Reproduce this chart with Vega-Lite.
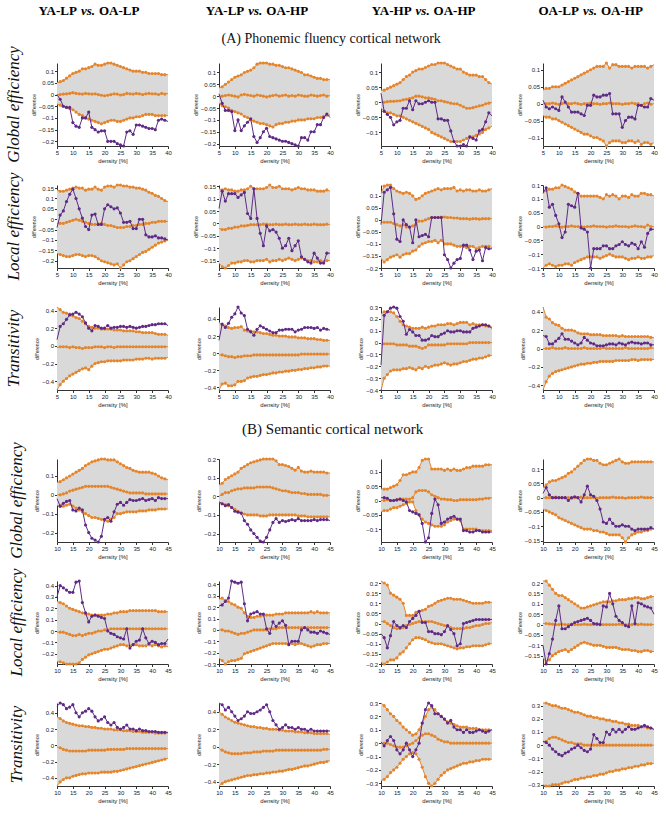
{
"$schema":"https://vega.github.io/schema/vega-lite/v6.json",
"background":"white",
"padding":{"left":4,"top":4,"right":4,"bottom":2},
"spacing":14,
"datasets":{
"hdr":[{"c":1,"a":"YA-LP","b":"OA-LP"},{"c":2,"a":"YA-LP","b":"OA-HP"},{"c":3,"a":"YA-HP","b":"OA-HP"},{"c":4,"a":"OA-LP","b":"OA-HP"}],
"panels":[
{"p":1,"r":"Global efficiency","c":1},{"p":2,"r":"Global efficiency","c":2},{"p":3,"r":"Global efficiency","c":3},{"p":4,"r":"Global efficiency","c":4},
{"p":5,"r":"Local efficiency","c":1},{"p":6,"r":"Local efficiency","c":2},{"p":7,"r":"Local efficiency","c":3},{"p":8,"r":"Local efficiency","c":4},
{"p":9,"r":"Transitivity","c":1},{"p":10,"r":"Transitivity","c":2},{"p":11,"r":"Transitivity","c":3},{"p":12,"r":"Transitivity","c":4},
{"p":13,"r":"Global efficiency","c":1},{"p":14,"r":"Global efficiency","c":2},{"p":15,"r":"Global efficiency","c":3},{"p":16,"r":"Global efficiency","c":4},
{"p":17,"r":"Local efficiency","c":1},{"p":18,"r":"Local efficiency","c":2},{"p":19,"r":"Local efficiency","c":3},{"p":20,"r":"Local efficiency","c":4},
{"p":21,"r":"Transitivity","c":1},{"p":22,"r":"Transitivity","c":2},{"p":23,"r":"Transitivity","c":3},{"p":24,"r":"Transitivity","c":4}],
"d":[
{"p":1,"x":5,"u":0.05,"m":0,"l":-0.04,"o":0},
{"p":1,"x":6,"u":0.055,"m":0,"l":-0.045,"o":-0.02},
{"p":1,"x":7,"u":0.06,"m":0.002,"l":-0.05,"o":-0.05},
{"p":1,"x":8,"u":0.07,"m":0.003,"l":-0.055,"o":-0.055},
{"p":1,"x":9,"u":0.08,"m":0.005,"l":-0.06,"o":-0.055},
{"p":1,"x":10,"u":0.09,"m":0.008,"l":-0.065,"o":-0.12},
{"p":1,"x":11,"u":0.095,"m":0.005,"l":-0.075,"o":-0.135},
{"p":1,"x":12,"u":0.1,"m":0.003,"l":-0.085,"o":-0.14},
{"p":1,"x":13,"u":0.11,"m":0.002,"l":-0.09,"o":-0.1},
{"p":1,"x":14,"u":0.11,"m":0.005,"l":-0.1,"o":-0.1},
{"p":1,"x":15,"u":0.115,"m":0.003,"l":-0.105,"o":-0.075},
{"p":1,"x":16,"u":0.12,"m":0.002,"l":-0.11,"o":-0.14},
{"p":1,"x":17,"u":0.13,"m":0.003,"l":-0.115,"o":-0.15},
{"p":1,"x":18,"u":0.125,"m":0,"l":-0.12,"o":-0.16},
{"p":1,"x":19,"u":0.125,"m":-0.003,"l":-0.125,"o":-0.155},
{"p":1,"x":20,"u":0.13,"m":-0.005,"l":-0.12,"o":-0.155},
{"p":1,"x":21,"u":0.135,"m":-0.003,"l":-0.115,"o":-0.2},
{"p":1,"x":22,"u":0.135,"m":0,"l":-0.11,"o":-0.2},
{"p":1,"x":23,"u":0.13,"m":0.003,"l":-0.11,"o":-0.2},
{"p":1,"x":24,"u":0.125,"m":0.002,"l":-0.115,"o":-0.21},
{"p":1,"x":25,"u":0.12,"m":-0.002,"l":-0.115,"o":-0.215},
{"p":1,"x":26,"u":0.115,"m":0,"l":-0.11,"o":-0.22},
{"p":1,"x":27,"u":0.11,"m":0.005,"l":-0.105,"o":-0.16},
{"p":1,"x":28,"u":0.105,"m":0.003,"l":-0.1,"o":-0.155},
{"p":1,"x":29,"u":0.1,"m":0.002,"l":-0.1,"o":-0.17},
{"p":1,"x":30,"u":0.1,"m":0.005,"l":-0.095,"o":-0.13},
{"p":1,"x":31,"u":0.1,"m":0.003,"l":-0.095,"o":-0.13},
{"p":1,"x":32,"u":0.095,"m":0,"l":-0.09,"o":-0.135},
{"p":1,"x":33,"u":0.095,"m":0.003,"l":-0.085,"o":-0.14},
{"p":1,"x":34,"u":0.09,"m":0.005,"l":-0.085,"o":-0.145},
{"p":1,"x":35,"u":0.09,"m":0.003,"l":-0.085,"o":-0.145},
{"p":1,"x":36,"u":0.09,"m":0.003,"l":-0.09,"o":-0.15},
{"p":1,"x":37,"u":0.09,"m":0,"l":-0.09,"o":-0.11},
{"p":1,"x":38,"u":0.085,"m":0.005,"l":-0.09,"o":-0.105},
{"p":1,"x":39,"u":0.085,"m":0.002,"l":-0.09,"o":-0.11},
{"p":1,"x":40,"u":0.085,"m":0.005,"l":-0.09,"o":-0.115},
{"p":2,"x":5,"u":0.035,"m":0,"l":-0.03,"o":0.01},
{"p":2,"x":6,"u":0.04,"m":0,"l":-0.04,"o":-0.03},
{"p":2,"x":7,"u":0.05,"m":0.003,"l":-0.045,"o":-0.06},
{"p":2,"x":8,"u":0.06,"m":0.005,"l":-0.05,"o":-0.06},
{"p":2,"x":9,"u":0.07,"m":0.003,"l":-0.06,"o":-0.065},
{"p":2,"x":10,"u":0.08,"m":0,"l":-0.065,"o":-0.145},
{"p":2,"x":11,"u":0.085,"m":-0.003,"l":-0.07,"o":-0.1},
{"p":2,"x":12,"u":0.09,"m":0.005,"l":-0.075,"o":-0.145},
{"p":2,"x":13,"u":0.1,"m":0.008,"l":-0.085,"o":-0.125},
{"p":2,"x":14,"u":0.105,"m":0.005,"l":-0.09,"o":-0.11},
{"p":2,"x":15,"u":0.11,"m":0.003,"l":-0.1,"o":-0.095},
{"p":2,"x":16,"u":0.12,"m":0,"l":-0.105,"o":-0.17},
{"p":2,"x":17,"u":0.135,"m":0.005,"l":-0.11,"o":-0.195},
{"p":2,"x":18,"u":0.14,"m":0.003,"l":-0.115,"o":-0.175},
{"p":2,"x":19,"u":0.14,"m":0,"l":-0.115,"o":-0.15},
{"p":2,"x":20,"u":0.14,"m":-0.003,"l":-0.12,"o":-0.135},
{"p":2,"x":21,"u":0.135,"m":0,"l":-0.125,"o":-0.17},
{"p":2,"x":22,"u":0.135,"m":0.003,"l":-0.13,"o":-0.175},
{"p":2,"x":23,"u":0.13,"m":0.005,"l":-0.12,"o":-0.18},
{"p":2,"x":24,"u":0.13,"m":0,"l":-0.115,"o":-0.185},
{"p":2,"x":25,"u":0.125,"m":0.003,"l":-0.115,"o":-0.19},
{"p":2,"x":26,"u":0.12,"m":0.005,"l":-0.11,"o":-0.19},
{"p":2,"x":27,"u":0.12,"m":0,"l":-0.11,"o":-0.195},
{"p":2,"x":28,"u":0.115,"m":0.003,"l":-0.105,"o":-0.2},
{"p":2,"x":29,"u":0.11,"m":0,"l":-0.105,"o":-0.205},
{"p":2,"x":30,"u":0.105,"m":0.005,"l":-0.1,"o":-0.21},
{"p":2,"x":31,"u":0.1,"m":0.003,"l":-0.1,"o":-0.175},
{"p":2,"x":32,"u":0.09,"m":0,"l":-0.1,"o":-0.175},
{"p":2,"x":33,"u":0.09,"m":0,"l":-0.095,"o":-0.185},
{"p":2,"x":34,"u":0.085,"m":0.005,"l":-0.095,"o":-0.15},
{"p":2,"x":35,"u":0.08,"m":0.003,"l":-0.095,"o":-0.15},
{"p":2,"x":36,"u":0.075,"m":0,"l":-0.09,"o":-0.12},
{"p":2,"x":37,"u":0.075,"m":0.003,"l":-0.09,"o":-0.12},
{"p":2,"x":38,"u":0.07,"m":0.005,"l":-0.085,"o":-0.09},
{"p":2,"x":39,"u":0.07,"m":0,"l":-0.08,"o":-0.075},
{"p":2,"x":40,"u":0.07,"m":0.003,"l":-0.08,"o":-0.09},
{"p":3,"x":5,"u":0.04,"m":0,"l":-0.02,"o":0.03},
{"p":3,"x":6,"u":0.04,"m":0,"l":-0.03,"o":-0.03},
{"p":3,"x":7,"u":0.045,"m":0.002,"l":-0.035,"o":-0.04},
{"p":3,"x":8,"u":0.05,"m":0.003,"l":-0.035,"o":-0.05},
{"p":3,"x":9,"u":0.055,"m":0.003,"l":-0.04,"o":-0.075},
{"p":3,"x":10,"u":0.06,"m":0.004,"l":-0.045,"o":-0.065},
{"p":3,"x":11,"u":0.065,"m":0.005,"l":-0.045,"o":-0.06},
{"p":3,"x":12,"u":0.075,"m":0.008,"l":-0.05,"o":-0.02},
{"p":3,"x":13,"u":0.085,"m":0.01,"l":-0.055,"o":-0.02},
{"p":3,"x":14,"u":0.09,"m":0.012,"l":-0.06,"o":0.005},
{"p":3,"x":15,"u":0.1,"m":0.015,"l":-0.065,"o":-0.025},
{"p":3,"x":16,"u":0.105,"m":0.02,"l":-0.07,"o":0.005},
{"p":3,"x":17,"u":0.11,"m":0.02,"l":-0.075,"o":-0.005},
{"p":3,"x":18,"u":0.11,"m":0.018,"l":-0.08,"o":-0.005},
{"p":3,"x":19,"u":0.115,"m":0.015,"l":-0.085,"o":0},
{"p":3,"x":20,"u":0.12,"m":0.015,"l":-0.09,"o":0.005},
{"p":3,"x":21,"u":0.125,"m":0.012,"l":-0.1,"o":0},
{"p":3,"x":22,"u":0.125,"m":0.01,"l":-0.105,"o":0},
{"p":3,"x":23,"u":0.13,"m":0.005,"l":-0.11,"o":-0.055},
{"p":3,"x":24,"u":0.13,"m":0.005,"l":-0.115,"o":-0.055},
{"p":3,"x":25,"u":0.13,"m":0.002,"l":-0.12,"o":-0.06},
{"p":3,"x":26,"u":0.125,"m":0,"l":-0.125,"o":-0.06},
{"p":3,"x":27,"u":0.12,"m":-0.003,"l":-0.13,"o":-0.095},
{"p":3,"x":28,"u":0.115,"m":-0.005,"l":-0.13,"o":-0.13},
{"p":3,"x":29,"u":0.11,"m":-0.005,"l":-0.13,"o":-0.145},
{"p":3,"x":30,"u":0.11,"m":-0.01,"l":-0.13,"o":-0.145},
{"p":3,"x":31,"u":0.1,"m":-0.015,"l":-0.125,"o":-0.14},
{"p":3,"x":32,"u":0.095,"m":-0.02,"l":-0.12,"o":-0.145},
{"p":3,"x":33,"u":0.09,"m":-0.02,"l":-0.115,"o":-0.115},
{"p":3,"x":34,"u":0.09,"m":-0.018,"l":-0.115,"o":-0.12},
{"p":3,"x":35,"u":0.09,"m":-0.015,"l":-0.11,"o":-0.125},
{"p":3,"x":36,"u":0.085,"m":-0.012,"l":-0.105,"o":-0.095},
{"p":3,"x":37,"u":0.085,"m":-0.01,"l":-0.1,"o":-0.09},
{"p":3,"x":38,"u":0.075,"m":-0.005,"l":-0.09,"o":-0.065},
{"p":3,"x":39,"u":0.065,"m":-0.003,"l":-0.085,"o":-0.035},
{"p":3,"x":40,"u":0.06,"m":0,"l":-0.08,"o":-0.045},
{"p":4,"x":5,"u":0.04,"m":0,"l":-0.035,"o":0.01},
{"p":4,"x":6,"u":0.045,"m":0,"l":-0.04,"o":-0.01},
{"p":4,"x":7,"u":0.045,"m":0,"l":-0.04,"o":-0.015},
{"p":4,"x":8,"u":0.05,"m":0.002,"l":-0.045,"o":-0.01},
{"p":4,"x":9,"u":0.05,"m":0,"l":-0.045,"o":-0.015},
{"p":4,"x":10,"u":0.05,"m":-0.002,"l":-0.05,"o":-0.02},
{"p":4,"x":11,"u":0.055,"m":0,"l":-0.055,"o":0.02},
{"p":4,"x":12,"u":0.06,"m":0.002,"l":-0.06,"o":0.005},
{"p":4,"x":13,"u":0.065,"m":0,"l":-0.065,"o":-0.01},
{"p":4,"x":14,"u":0.07,"m":0,"l":-0.07,"o":-0.025},
{"p":4,"x":15,"u":0.075,"m":0.002,"l":-0.075,"o":-0.025},
{"p":4,"x":16,"u":0.08,"m":0,"l":-0.08,"o":-0.025},
{"p":4,"x":17,"u":0.085,"m":-0.002,"l":-0.085,"o":-0.03},
{"p":4,"x":18,"u":0.09,"m":0,"l":-0.09,"o":-0.035},
{"p":4,"x":19,"u":0.095,"m":0,"l":-0.09,"o":-0.005},
{"p":4,"x":20,"u":0.1,"m":0.002,"l":-0.095,"o":-0.005},
{"p":4,"x":21,"u":0.105,"m":0,"l":-0.1,"o":0.025},
{"p":4,"x":22,"u":0.11,"m":0,"l":-0.1,"o":0.02},
{"p":4,"x":23,"u":0.11,"m":-0.002,"l":-0.105,"o":0.02},
{"p":4,"x":24,"u":0.11,"m":0,"l":-0.11,"o":0.025},
{"p":4,"x":25,"u":0.12,"m":0,"l":-0.125,"o":0.025},
{"p":4,"x":26,"u":0.105,"m":0.002,"l":-0.115,"o":0.03},
{"p":4,"x":27,"u":0.115,"m":0,"l":-0.11,"o":-0.03},
{"p":4,"x":28,"u":0.115,"m":0,"l":-0.11,"o":-0.03},
{"p":4,"x":29,"u":0.11,"m":0,"l":-0.11,"o":-0.03},
{"p":4,"x":30,"u":0.11,"m":-0.002,"l":-0.115,"o":-0.07},
{"p":4,"x":31,"u":0.11,"m":0,"l":-0.115,"o":-0.05},
{"p":4,"x":32,"u":0.11,"m":0,"l":-0.11,"o":-0.04},
{"p":4,"x":33,"u":0.105,"m":0.002,"l":-0.11,"o":-0.04},
{"p":4,"x":34,"u":0.11,"m":0,"l":-0.115,"o":-0.045},
{"p":4,"x":35,"u":0.11,"m":0,"l":-0.11,"o":-0.005},
{"p":4,"x":36,"u":0.11,"m":-0.005,"l":-0.12,"o":-0.005},
{"p":4,"x":37,"u":0.11,"m":0,"l":-0.115,"o":-0.01},
{"p":4,"x":38,"u":0.105,"m":0.002,"l":-0.115,"o":-0.01},
{"p":4,"x":39,"u":0.11,"m":-0.002,"l":-0.12,"o":0.015},
{"p":4,"x":40,"u":0.115,"m":0,"l":-0.115,"o":0.01},
{"p":5,"x":5,"u":0.14,"m":-0.02,"l":-0.165,"o":-0.04},
{"p":5,"x":6,"u":0.135,"m":-0.02,"l":-0.17,"o":0.02},
{"p":5,"x":7,"u":0.135,"m":-0.02,"l":-0.175,"o":0.04},
{"p":5,"x":8,"u":0.14,"m":-0.015,"l":-0.18,"o":0.085},
{"p":5,"x":9,"u":0.145,"m":-0.01,"l":-0.18,"o":0.12},
{"p":5,"x":10,"u":0.15,"m":-0.005,"l":-0.175,"o":0.145},
{"p":5,"x":11,"u":0.155,"m":0,"l":-0.17,"o":0.1},
{"p":5,"x":12,"u":0.15,"m":-0.005,"l":-0.17,"o":0.05},
{"p":5,"x":13,"u":0.15,"m":-0.01,"l":-0.175,"o":0.005},
{"p":5,"x":14,"u":0.14,"m":-0.015,"l":-0.18,"o":-0.035},
{"p":5,"x":15,"u":0.145,"m":-0.02,"l":-0.175,"o":-0.05},
{"p":5,"x":16,"u":0.145,"m":-0.025,"l":-0.175,"o":0.02},
{"p":5,"x":17,"u":0.155,"m":-0.025,"l":-0.18,"o":0.025},
{"p":5,"x":18,"u":0.145,"m":-0.025,"l":-0.19,"o":-0.025},
{"p":5,"x":19,"u":0.14,"m":-0.02,"l":-0.2,"o":-0.025},
{"p":5,"x":20,"u":0.155,"m":-0.025,"l":-0.205,"o":0.05},
{"p":5,"x":21,"u":0.16,"m":-0.03,"l":-0.21,"o":0.07},
{"p":5,"x":22,"u":0.16,"m":-0.03,"l":-0.215,"o":0.06},
{"p":5,"x":23,"u":0.155,"m":-0.035,"l":-0.22,"o":0.05},
{"p":5,"x":24,"u":0.165,"m":-0.04,"l":-0.215,"o":0.055},
{"p":5,"x":25,"u":0.165,"m":-0.04,"l":-0.235,"o":0.03},
{"p":5,"x":26,"u":0.16,"m":-0.04,"l":-0.22,"o":-0.015},
{"p":5,"x":27,"u":0.16,"m":-0.035,"l":-0.205,"o":-0.015},
{"p":5,"x":28,"u":0.155,"m":-0.035,"l":-0.2,"o":-0.01},
{"p":5,"x":29,"u":0.155,"m":-0.03,"l":-0.19,"o":-0.045},
{"p":5,"x":30,"u":0.15,"m":-0.03,"l":-0.18,"o":-0.045},
{"p":5,"x":31,"u":0.15,"m":-0.025,"l":-0.17,"o":0},
{"p":5,"x":32,"u":0.145,"m":-0.025,"l":-0.16,"o":0},
{"p":5,"x":33,"u":0.14,"m":-0.02,"l":-0.155,"o":-0.075},
{"p":5,"x":34,"u":0.13,"m":-0.02,"l":-0.145,"o":-0.085},
{"p":5,"x":35,"u":0.125,"m":-0.015,"l":-0.135,"o":-0.085},
{"p":5,"x":36,"u":0.115,"m":-0.015,"l":-0.125,"o":-0.08},
{"p":5,"x":37,"u":0.11,"m":-0.01,"l":-0.115,"o":-0.09},
{"p":5,"x":38,"u":0.1,"m":-0.01,"l":-0.11,"o":-0.09},
{"p":5,"x":39,"u":0.09,"m":-0.01,"l":-0.105,"o":-0.095},
{"p":5,"x":40,"u":0.085,"m":-0.01,"l":-0.1,"o":-0.1},
{"p":6,"x":5,"u":0.14,"m":-0.02,"l":-0.16,"o":0.06},
{"p":6,"x":6,"u":0.135,"m":-0.025,"l":-0.175,"o":0.13},
{"p":6,"x":7,"u":0.14,"m":-0.025,"l":-0.18,"o":0.09},
{"p":6,"x":8,"u":0.135,"m":-0.02,"l":-0.17,"o":0.12},
{"p":6,"x":9,"u":0.135,"m":-0.02,"l":-0.16,"o":0.12},
{"p":6,"x":10,"u":0.13,"m":-0.015,"l":-0.16,"o":0.12},
{"p":6,"x":11,"u":0.13,"m":-0.015,"l":-0.155,"o":0.105},
{"p":6,"x":12,"u":0.135,"m":-0.01,"l":-0.155,"o":0.115},
{"p":6,"x":13,"u":0.135,"m":-0.01,"l":-0.15,"o":0.125},
{"p":6,"x":14,"u":0.14,"m":-0.008,"l":-0.15,"o":0.04},
{"p":6,"x":15,"u":0.15,"m":-0.005,"l":-0.155,"o":0.02},
{"p":6,"x":16,"u":0.14,"m":-0.005,"l":-0.155,"o":0.14},
{"p":6,"x":17,"u":0.14,"m":-0.005,"l":-0.15,"o":0.02},
{"p":6,"x":18,"u":0.14,"m":-0.005,"l":-0.15,"o":-0.04},
{"p":6,"x":19,"u":0.14,"m":-0.003,"l":-0.15,"o":-0.09},
{"p":6,"x":20,"u":0.145,"m":-0.003,"l":-0.145,"o":-0.01},
{"p":6,"x":21,"u":0.155,"m":-0.005,"l":-0.155,"o":-0.03},
{"p":6,"x":22,"u":0.145,"m":-0.005,"l":-0.15,"o":-0.025},
{"p":6,"x":23,"u":0.145,"m":-0.003,"l":-0.15,"o":-0.035},
{"p":6,"x":24,"u":0.15,"m":-0.005,"l":-0.145,"o":-0.06},
{"p":6,"x":25,"u":0.14,"m":-0.005,"l":-0.15,"o":-0.1},
{"p":6,"x":26,"u":0.14,"m":-0.003,"l":-0.145,"o":-0.09},
{"p":6,"x":27,"u":0.14,"m":-0.005,"l":-0.14,"o":-0.06},
{"p":6,"x":28,"u":0.135,"m":-0.005,"l":-0.145,"o":-0.11},
{"p":6,"x":29,"u":0.14,"m":-0.003,"l":-0.15,"o":-0.09},
{"p":6,"x":30,"u":0.145,"m":-0.005,"l":-0.145,"o":-0.07},
{"p":6,"x":31,"u":0.14,"m":-0.005,"l":-0.14,"o":-0.135},
{"p":6,"x":32,"u":0.14,"m":-0.003,"l":-0.145,"o":-0.145},
{"p":6,"x":33,"u":0.135,"m":-0.005,"l":-0.15,"o":-0.155},
{"p":6,"x":34,"u":0.135,"m":-0.005,"l":-0.15,"o":-0.16},
{"p":6,"x":35,"u":0.135,"m":-0.003,"l":-0.155,"o":-0.12},
{"p":6,"x":36,"u":0.13,"m":-0.005,"l":-0.155,"o":-0.14},
{"p":6,"x":37,"u":0.13,"m":-0.005,"l":-0.15,"o":-0.16},
{"p":6,"x":38,"u":0.13,"m":-0.005,"l":-0.155,"o":-0.16},
{"p":6,"x":39,"u":0.135,"m":-0.003,"l":-0.15,"o":-0.12},
{"p":6,"x":40,"u":0.13,"m":-0.005,"l":-0.15,"o":-0.12},
{"p":7,"x":5,"u":0.11,"m":-0.01,"l":-0.16,"o":-0.02},
{"p":7,"x":6,"u":0.14,"m":-0.01,"l":-0.175,"o":0.115},
{"p":7,"x":7,"u":0.145,"m":-0.01,"l":-0.165,"o":0.125},
{"p":7,"x":8,"u":0.145,"m":-0.01,"l":-0.155,"o":0.135},
{"p":7,"x":9,"u":0.13,"m":-0.015,"l":-0.15,"o":0.025},
{"p":7,"x":10,"u":0.12,"m":-0.02,"l":-0.145,"o":-0.08},
{"p":7,"x":11,"u":0.115,"m":-0.025,"l":-0.155,"o":-0.09},
{"p":7,"x":12,"u":0.11,"m":-0.02,"l":-0.145,"o":0},
{"p":7,"x":13,"u":0.115,"m":-0.03,"l":-0.14,"o":-0.02},
{"p":7,"x":14,"u":0.11,"m":-0.03,"l":-0.14,"o":-0.03},
{"p":7,"x":15,"u":0.1,"m":-0.025,"l":-0.13,"o":-0.095},
{"p":7,"x":16,"u":0.085,"m":-0.02,"l":-0.125,"o":0},
{"p":7,"x":17,"u":0.09,"m":-0.005,"l":-0.11,"o":-0.07},
{"p":7,"x":18,"u":0.1,"m":-0.005,"l":-0.1,"o":-0.065},
{"p":7,"x":19,"u":0.11,"m":0,"l":-0.095,"o":-0.06},
{"p":7,"x":20,"u":0.115,"m":0.005,"l":-0.09,"o":-0.07},
{"p":7,"x":21,"u":0.12,"m":0.01,"l":-0.09,"o":0.01},
{"p":7,"x":22,"u":0.125,"m":0.01,"l":-0.085,"o":0.01},
{"p":7,"x":23,"u":0.13,"m":0.01,"l":-0.095,"o":0.01},
{"p":7,"x":24,"u":0.125,"m":0.012,"l":-0.085,"o":0.01},
{"p":7,"x":25,"u":0.13,"m":0.012,"l":-0.1,"o":-0.145},
{"p":7,"x":26,"u":0.13,"m":0.01,"l":-0.1,"o":-0.165},
{"p":7,"x":27,"u":0.13,"m":0.01,"l":-0.1,"o":-0.2},
{"p":7,"x":28,"u":0.135,"m":0.008,"l":-0.105,"o":-0.18},
{"p":7,"x":29,"u":0.12,"m":0.008,"l":-0.11,"o":-0.165},
{"p":7,"x":30,"u":0.125,"m":0.005,"l":-0.11,"o":-0.16},
{"p":7,"x":31,"u":0.12,"m":0.005,"l":-0.11,"o":-0.105},
{"p":7,"x":32,"u":0.125,"m":0.005,"l":-0.115,"o":-0.105},
{"p":7,"x":33,"u":0.125,"m":0.003,"l":-0.11,"o":-0.125},
{"p":7,"x":34,"u":0.12,"m":0.005,"l":-0.11,"o":-0.165},
{"p":7,"x":35,"u":0.12,"m":0.005,"l":-0.12,"o":-0.13},
{"p":7,"x":36,"u":0.125,"m":0.003,"l":-0.115,"o":-0.125},
{"p":7,"x":37,"u":0.12,"m":0.005,"l":-0.11,"o":-0.17},
{"p":7,"x":38,"u":0.12,"m":0.005,"l":-0.11,"o":-0.115},
{"p":7,"x":39,"u":0.125,"m":0.005,"l":-0.11,"o":-0.12},
{"p":7,"x":40,"u":0.13,"m":0.005,"l":-0.115,"o":-0.12},
{"p":8,"x":5,"u":0.12,"m":0,"l":-0.15,"o":0.12},
{"p":8,"x":6,"u":0.13,"m":-0.002,"l":-0.14,"o":0.14},
{"p":8,"x":7,"u":0.135,"m":0,"l":-0.135,"o":0.07},
{"p":8,"x":8,"u":0.135,"m":0,"l":-0.14,"o":0.08},
{"p":8,"x":9,"u":0.14,"m":0.002,"l":-0.145,"o":0.04},
{"p":8,"x":10,"u":0.14,"m":0,"l":-0.14,"o":0.01},
{"p":8,"x":11,"u":0.15,"m":-0.002,"l":-0.14,"o":-0.04},
{"p":8,"x":12,"u":0.145,"m":0,"l":-0.135,"o":-0.02},
{"p":8,"x":13,"u":0.14,"m":0,"l":-0.135,"o":0.08},
{"p":8,"x":14,"u":0.135,"m":0.002,"l":-0.14,"o":0.075},
{"p":8,"x":15,"u":0.125,"m":0,"l":-0.13,"o":0.07},
{"p":8,"x":16,"u":0.12,"m":0,"l":-0.125,"o":0.12},
{"p":8,"x":17,"u":0.11,"m":0,"l":-0.12,"o":-0.005},
{"p":8,"x":18,"u":0.11,"m":-0.002,"l":-0.115,"o":-0.01},
{"p":8,"x":19,"u":0.11,"m":0,"l":-0.11,"o":-0.02},
{"p":8,"x":20,"u":0.11,"m":0,"l":-0.11,"o":-0.15},
{"p":8,"x":21,"u":0.11,"m":0.002,"l":-0.11,"o":-0.08},
{"p":8,"x":22,"u":0.11,"m":0,"l":-0.11,"o":-0.08},
{"p":8,"x":23,"u":0.105,"m":0,"l":-0.115,"o":-0.08},
{"p":8,"x":24,"u":0.1,"m":0,"l":-0.11,"o":-0.07},
{"p":8,"x":25,"u":0.115,"m":-0.002,"l":-0.105,"o":-0.07},
{"p":8,"x":26,"u":0.11,"m":0,"l":-0.1,"o":-0.08},
{"p":8,"x":27,"u":0.115,"m":0,"l":-0.105,"o":-0.08},
{"p":8,"x":28,"u":0.11,"m":0.002,"l":-0.11,"o":-0.07},
{"p":8,"x":29,"u":0.1,"m":0,"l":-0.11,"o":-0.065},
{"p":8,"x":30,"u":0.11,"m":0,"l":-0.11,"o":-0.055},
{"p":8,"x":31,"u":0.11,"m":0,"l":-0.115,"o":-0.065},
{"p":8,"x":32,"u":0.105,"m":-0.002,"l":-0.12,"o":-0.07},
{"p":8,"x":33,"u":0.115,"m":0,"l":-0.115,"o":-0.06},
{"p":8,"x":34,"u":0.11,"m":0.002,"l":-0.115,"o":-0.065},
{"p":8,"x":35,"u":0.11,"m":0,"l":-0.11,"o":-0.08},
{"p":8,"x":36,"u":0.12,"m":0,"l":-0.115,"o":-0.055},
{"p":8,"x":37,"u":0.12,"m":-0.002,"l":-0.115,"o":-0.075},
{"p":8,"x":38,"u":0.115,"m":0.005,"l":-0.11,"o":-0.025},
{"p":8,"x":39,"u":0.115,"m":0,"l":-0.11,"o":-0.01},
{"p":8,"x":40,"u":0.11,"m":0,"l":-0.105,"o":-0.01},
{"p":9,"x":5,"u":0.44,"m":-0.02,"l":-0.5,"o":0.07},
{"p":9,"x":6,"u":0.41,"m":-0.01,"l":-0.44,"o":0.22},
{"p":9,"x":7,"u":0.38,"m":-0.01,"l":-0.4,"o":0.25},
{"p":9,"x":8,"u":0.37,"m":-0.01,"l":-0.37,"o":0.3},
{"p":9,"x":9,"u":0.36,"m":-0.02,"l":-0.34,"o":0.35},
{"p":9,"x":10,"u":0.34,"m":-0.01,"l":-0.32,"o":0.36},
{"p":9,"x":11,"u":0.32,"m":-0.02,"l":-0.3,"o":0.38},
{"p":9,"x":12,"u":0.31,"m":-0.02,"l":-0.28,"o":0.36},
{"p":9,"x":13,"u":0.28,"m":-0.03,"l":-0.26,"o":0.33},
{"p":9,"x":14,"u":0.25,"m":-0.02,"l":-0.25,"o":0.26},
{"p":9,"x":15,"u":0.22,"m":-0.02,"l":-0.27,"o":0.2},
{"p":9,"x":16,"u":0.21,"m":-0.02,"l":-0.23,"o":0.17},
{"p":9,"x":17,"u":0.2,"m":-0.01,"l":-0.2,"o":0.23},
{"p":9,"x":18,"u":0.2,"m":-0.01,"l":-0.19,"o":0.22},
{"p":9,"x":19,"u":0.19,"m":-0.01,"l":-0.18,"o":0.2},
{"p":9,"x":20,"u":0.19,"m":-0.02,"l":-0.18,"o":0.2},
{"p":9,"x":21,"u":0.19,"m":-0.01,"l":-0.17,"o":0.23},
{"p":9,"x":22,"u":0.19,"m":-0.01,"l":-0.17,"o":0.2},
{"p":9,"x":23,"u":0.18,"m":-0.02,"l":-0.17,"o":0.21},
{"p":9,"x":24,"u":0.18,"m":-0.01,"l":-0.17,"o":0.21},
{"p":9,"x":25,"u":0.18,"m":-0.01,"l":-0.17,"o":0.22},
{"p":9,"x":26,"u":0.17,"m":-0.01,"l":-0.16,"o":0.22},
{"p":9,"x":27,"u":0.17,"m":-0.01,"l":-0.16,"o":0.21},
{"p":9,"x":28,"u":0.17,"m":-0.01,"l":-0.16,"o":0.22},
{"p":9,"x":29,"u":0.17,"m":-0.01,"l":-0.16,"o":0.21},
{"p":9,"x":30,"u":0.16,"m":-0.01,"l":-0.15,"o":0.2},
{"p":9,"x":31,"u":0.16,"m":-0.01,"l":-0.15,"o":0.21},
{"p":9,"x":32,"u":0.15,"m":-0.01,"l":-0.15,"o":0.22},
{"p":9,"x":33,"u":0.15,"m":-0.01,"l":-0.14,"o":0.22},
{"p":9,"x":34,"u":0.15,"m":-0.01,"l":-0.14,"o":0.23},
{"p":9,"x":35,"u":0.15,"m":-0.01,"l":-0.15,"o":0.24},
{"p":9,"x":36,"u":0.14,"m":-0.01,"l":-0.14,"o":0.24},
{"p":9,"x":37,"u":0.13,"m":-0.01,"l":-0.14,"o":0.25},
{"p":9,"x":38,"u":0.13,"m":-0.01,"l":-0.14,"o":0.25},
{"p":9,"x":39,"u":0.13,"m":-0.01,"l":-0.14,"o":0.25},
{"p":9,"x":40,"u":0.12,"m":-0.01,"l":-0.13,"o":0.23},
{"p":10,"x":5,"u":0.36,"m":-0.02,"l":-0.43,"o":0.15},
{"p":10,"x":6,"u":0.33,"m":-0.02,"l":-0.36,"o":0.34},
{"p":10,"x":7,"u":0.32,"m":-0.03,"l":-0.35,"o":0.3},
{"p":10,"x":8,"u":0.3,"m":-0.04,"l":-0.38,"o":0.35},
{"p":10,"x":9,"u":0.29,"m":-0.04,"l":-0.38,"o":0.42},
{"p":10,"x":10,"u":0.3,"m":-0.05,"l":-0.37,"o":0.46},
{"p":10,"x":11,"u":0.3,"m":-0.04,"l":-0.33,"o":0.54},
{"p":10,"x":12,"u":0.31,"m":-0.04,"l":-0.33,"o":0.47},
{"p":10,"x":13,"u":0.27,"m":-0.03,"l":-0.32,"o":0.44},
{"p":10,"x":14,"u":0.26,"m":-0.03,"l":-0.29,"o":0.28},
{"p":10,"x":15,"u":0.26,"m":-0.03,"l":-0.28,"o":0.25},
{"p":10,"x":16,"u":0.25,"m":-0.02,"l":-0.27,"o":0.21},
{"p":10,"x":17,"u":0.25,"m":-0.02,"l":-0.27,"o":0.28},
{"p":10,"x":18,"u":0.24,"m":-0.02,"l":-0.26,"o":0.32},
{"p":10,"x":19,"u":0.23,"m":-0.02,"l":-0.25,"o":0.3},
{"p":10,"x":20,"u":0.23,"m":-0.02,"l":-0.25,"o":0.28},
{"p":10,"x":21,"u":0.22,"m":-0.02,"l":-0.24,"o":0.26},
{"p":10,"x":22,"u":0.21,"m":-0.02,"l":-0.23,"o":0.24},
{"p":10,"x":23,"u":0.21,"m":-0.02,"l":-0.23,"o":0.24},
{"p":10,"x":24,"u":0.2,"m":-0.02,"l":-0.22,"o":0.27},
{"p":10,"x":25,"u":0.2,"m":-0.02,"l":-0.22,"o":0.27},
{"p":10,"x":26,"u":0.2,"m":-0.02,"l":-0.21,"o":0.28},
{"p":10,"x":27,"u":0.19,"m":-0.02,"l":-0.21,"o":0.28},
{"p":10,"x":28,"u":0.19,"m":-0.02,"l":-0.2,"o":0.28},
{"p":10,"x":29,"u":0.19,"m":-0.02,"l":-0.2,"o":0.25},
{"p":10,"x":30,"u":0.18,"m":-0.02,"l":-0.19,"o":0.27},
{"p":10,"x":31,"u":0.18,"m":-0.01,"l":-0.19,"o":0.28},
{"p":10,"x":32,"u":0.18,"m":-0.01,"l":-0.18,"o":0.3},
{"p":10,"x":33,"u":0.17,"m":-0.01,"l":-0.18,"o":0.3},
{"p":10,"x":34,"u":0.17,"m":-0.01,"l":-0.17,"o":0.3},
{"p":10,"x":35,"u":0.17,"m":-0.01,"l":-0.17,"o":0.29},
{"p":10,"x":36,"u":0.16,"m":-0.01,"l":-0.16,"o":0.3},
{"p":10,"x":37,"u":0.16,"m":-0.01,"l":-0.16,"o":0.27},
{"p":10,"x":38,"u":0.15,"m":-0.01,"l":-0.15,"o":0.29},
{"p":10,"x":39,"u":0.15,"m":-0.01,"l":-0.15,"o":0.28},
{"p":10,"x":40,"u":0.15,"m":-0.01,"l":-0.15,"o":0.27},
{"p":11,"x":5,"u":0.24,"m":-0.02,"l":-0.4,"o":-0.19},
{"p":11,"x":6,"u":0.26,"m":-0.01,"l":-0.3,"o":0.23},
{"p":11,"x":7,"u":0.26,"m":-0.01,"l":-0.27,"o":0.26},
{"p":11,"x":8,"u":0.26,"m":-0.01,"l":-0.24,"o":0.29},
{"p":11,"x":9,"u":0.25,"m":-0.01,"l":-0.23,"o":0.3},
{"p":11,"x":10,"u":0.22,"m":-0.02,"l":-0.23,"o":0.29},
{"p":11,"x":11,"u":0.18,"m":-0.02,"l":-0.23,"o":0.22},
{"p":11,"x":12,"u":0.15,"m":-0.02,"l":-0.22,"o":0.18},
{"p":11,"x":13,"u":0.14,"m":-0.02,"l":-0.22,"o":0.07},
{"p":11,"x":14,"u":0.13,"m":-0.03,"l":-0.21,"o":0.11},
{"p":11,"x":15,"u":0.12,"m":-0.03,"l":-0.22,"o":0.09},
{"p":11,"x":16,"u":0.12,"m":-0.03,"l":-0.23,"o":0.06},
{"p":11,"x":17,"u":0.12,"m":-0.04,"l":-0.21,"o":0.06},
{"p":11,"x":18,"u":0.13,"m":-0.05,"l":-0.22,"o":0.02},
{"p":11,"x":19,"u":0.12,"m":-0.04,"l":-0.2,"o":0.02},
{"p":11,"x":20,"u":0.13,"m":-0.02,"l":-0.21,"o":0.03},
{"p":11,"x":21,"u":0.14,"m":-0.02,"l":-0.2,"o":0.06},
{"p":11,"x":22,"u":0.14,"m":-0.02,"l":-0.19,"o":0.05},
{"p":11,"x":23,"u":0.15,"m":-0.02,"l":-0.19,"o":0.05},
{"p":11,"x":24,"u":0.15,"m":-0.02,"l":-0.18,"o":0.07},
{"p":11,"x":25,"u":0.15,"m":-0.02,"l":-0.17,"o":0.08},
{"p":11,"x":26,"u":0.16,"m":-0.01,"l":-0.18,"o":0.1},
{"p":11,"x":27,"u":0.16,"m":-0.01,"l":-0.19,"o":0.09},
{"p":11,"x":28,"u":0.15,"m":-0.01,"l":-0.18,"o":0.09},
{"p":11,"x":29,"u":0.16,"m":-0.01,"l":-0.18,"o":0.1},
{"p":11,"x":30,"u":0.17,"m":-0.01,"l":-0.17,"o":0.1},
{"p":11,"x":31,"u":0.17,"m":-0.01,"l":-0.16,"o":0.09},
{"p":11,"x":32,"u":0.17,"m":-0.01,"l":-0.16,"o":0.09},
{"p":11,"x":33,"u":0.15,"m":0,"l":-0.15,"o":0.09},
{"p":11,"x":34,"u":0.16,"m":0,"l":-0.14,"o":0.12},
{"p":11,"x":35,"u":0.15,"m":0,"l":-0.14,"o":0.13},
{"p":11,"x":36,"u":0.15,"m":0,"l":-0.13,"o":0.14},
{"p":11,"x":37,"u":0.15,"m":0,"l":-0.13,"o":0.15},
{"p":11,"x":38,"u":0.14,"m":0,"l":-0.12,"o":0.15},
{"p":11,"x":39,"u":0.14,"m":0,"l":-0.11,"o":0.14},
{"p":11,"x":40,"u":0.13,"m":0,"l":-0.11,"o":0.12},
{"p":12,"x":5,"u":0.45,"m":0,"l":-0.45,"o":0.14},
{"p":12,"x":6,"u":0.34,"m":0,"l":-0.36,"o":0.13},
{"p":12,"x":7,"u":0.32,"m":0,"l":-0.3,"o":0.05},
{"p":12,"x":8,"u":0.28,"m":0.01,"l":-0.27,"o":0.05},
{"p":12,"x":9,"u":0.26,"m":0,"l":-0.25,"o":0.08},
{"p":12,"x":10,"u":0.25,"m":0,"l":-0.24,"o":0.11},
{"p":12,"x":11,"u":0.22,"m":0,"l":-0.23,"o":0.16},
{"p":12,"x":12,"u":0.2,"m":0.01,"l":-0.22,"o":0.1},
{"p":12,"x":13,"u":0.2,"m":0,"l":-0.21,"o":0.1},
{"p":12,"x":14,"u":0.2,"m":0,"l":-0.2,"o":0.08},
{"p":12,"x":15,"u":0.19,"m":0,"l":-0.19,"o":0.06},
{"p":12,"x":16,"u":0.17,"m":0,"l":-0.18,"o":0.04},
{"p":12,"x":17,"u":0.16,"m":0,"l":-0.17,"o":0.06},
{"p":12,"x":18,"u":0.16,"m":0.01,"l":-0.17,"o":0.12},
{"p":12,"x":19,"u":0.16,"m":0,"l":-0.16,"o":0.09},
{"p":12,"x":20,"u":0.15,"m":0,"l":-0.16,"o":0.06},
{"p":12,"x":21,"u":0.15,"m":0,"l":-0.15,"o":0.05},
{"p":12,"x":22,"u":0.15,"m":0,"l":-0.15,"o":0.03},
{"p":12,"x":23,"u":0.15,"m":0,"l":-0.14,"o":0.03},
{"p":12,"x":24,"u":0.14,"m":0.01,"l":-0.14,"o":0.03},
{"p":12,"x":25,"u":0.14,"m":0,"l":-0.14,"o":0.04},
{"p":12,"x":26,"u":0.14,"m":0,"l":-0.14,"o":0.05},
{"p":12,"x":27,"u":0.14,"m":0,"l":-0.14,"o":0.05},
{"p":12,"x":28,"u":0.14,"m":0,"l":-0.13,"o":0.04},
{"p":12,"x":29,"u":0.13,"m":0,"l":-0.13,"o":0.06},
{"p":12,"x":30,"u":0.14,"m":0,"l":-0.13,"o":0.05},
{"p":12,"x":31,"u":0.13,"m":0.01,"l":-0.13,"o":0.04},
{"p":12,"x":32,"u":0.13,"m":0,"l":-0.13,"o":0.06},
{"p":12,"x":33,"u":0.13,"m":0,"l":-0.12,"o":0.07},
{"p":12,"x":34,"u":0.13,"m":0,"l":-0.12,"o":0.06},
{"p":12,"x":35,"u":0.13,"m":0,"l":-0.13,"o":0.06},
{"p":12,"x":36,"u":0.13,"m":0,"l":-0.12,"o":0.05},
{"p":12,"x":37,"u":0.13,"m":0,"l":-0.12,"o":0.06},
{"p":12,"x":38,"u":0.13,"m":0,"l":-0.12,"o":0.06},
{"p":12,"x":39,"u":0.12,"m":0.01,"l":-0.12,"o":0.04},
{"p":12,"x":40,"u":0.12,"m":0,"l":-0.12,"o":0.04},
{"p":13,"x":10,"u":0.065,"m":0,"l":-0.055,"o":-0.02},
{"p":13,"x":11,"u":0.07,"m":0,"l":-0.06,"o":-0.06},
{"p":13,"x":12,"u":0.08,"m":0.005,"l":-0.06,"o":-0.045},
{"p":13,"x":13,"u":0.09,"m":0.01,"l":-0.055,"o":-0.035},
{"p":13,"x":14,"u":0.1,"m":0.02,"l":-0.05,"o":-0.03},
{"p":13,"x":15,"u":0.11,"m":0.025,"l":-0.06,"o":-0.08},
{"p":13,"x":16,"u":0.12,"m":0.03,"l":-0.07,"o":-0.085},
{"p":13,"x":17,"u":0.13,"m":0.035,"l":-0.08,"o":-0.07},
{"p":13,"x":18,"u":0.14,"m":0.04,"l":-0.09,"o":-0.08},
{"p":13,"x":19,"u":0.155,"m":0.045,"l":-0.1,"o":-0.16},
{"p":13,"x":20,"u":0.165,"m":0.045,"l":-0.11,"o":-0.2},
{"p":13,"x":21,"u":0.175,"m":0.045,"l":-0.12,"o":-0.23},
{"p":13,"x":22,"u":0.18,"m":0.045,"l":-0.12,"o":-0.24},
{"p":13,"x":23,"u":0.185,"m":0.045,"l":-0.125,"o":-0.25},
{"p":13,"x":24,"u":0.19,"m":0.045,"l":-0.13,"o":-0.22},
{"p":13,"x":25,"u":0.19,"m":0.045,"l":-0.135,"o":-0.13},
{"p":13,"x":26,"u":0.185,"m":0.045,"l":-0.14,"o":-0.12},
{"p":13,"x":27,"u":0.185,"m":0.04,"l":-0.13,"o":-0.14},
{"p":13,"x":28,"u":0.185,"m":0.035,"l":-0.12,"o":-0.09},
{"p":13,"x":29,"u":0.175,"m":0.03,"l":-0.1,"o":-0.05},
{"p":13,"x":30,"u":0.165,"m":0.025,"l":-0.1,"o":-0.04},
{"p":13,"x":31,"u":0.155,"m":0.02,"l":-0.095,"o":-0.055},
{"p":13,"x":32,"u":0.145,"m":0.015,"l":-0.09,"o":-0.04},
{"p":13,"x":33,"u":0.14,"m":0.01,"l":-0.09,"o":-0.025},
{"p":13,"x":34,"u":0.13,"m":0.01,"l":-0.09,"o":-0.03},
{"p":13,"x":35,"u":0.125,"m":0.01,"l":-0.09,"o":-0.03},
{"p":13,"x":36,"u":0.12,"m":0.01,"l":-0.085,"o":-0.025},
{"p":13,"x":37,"u":0.12,"m":0.01,"l":-0.085,"o":-0.02},
{"p":13,"x":38,"u":0.12,"m":0.005,"l":-0.085,"o":-0.03},
{"p":13,"x":39,"u":0.12,"m":0.005,"l":-0.08,"o":-0.025},
{"p":13,"x":40,"u":0.115,"m":0.005,"l":-0.08,"o":-0.02},
{"p":13,"x":41,"u":0.11,"m":0.005,"l":-0.08,"o":-0.03},
{"p":13,"x":42,"u":0.1,"m":0.005,"l":-0.075,"o":-0.015},
{"p":13,"x":43,"u":0.09,"m":0.005,"l":-0.075,"o":-0.02},
{"p":13,"x":44,"u":0.085,"m":0.005,"l":-0.075,"o":-0.02},
{"p":13,"x":45,"u":0.08,"m":0.005,"l":-0.075,"o":-0.02},
{"p":14,"x":10,"u":0.06,"m":0,"l":-0.03,"o":-0.03},
{"p":14,"x":11,"u":0.07,"m":0.01,"l":-0.04,"o":-0.04},
{"p":14,"x":12,"u":0.09,"m":0.02,"l":-0.045,"o":-0.05},
{"p":14,"x":13,"u":0.1,"m":0.02,"l":-0.05,"o":-0.045},
{"p":14,"x":14,"u":0.11,"m":0.03,"l":-0.06,"o":-0.06},
{"p":14,"x":15,"u":0.12,"m":0.035,"l":-0.07,"o":-0.08},
{"p":14,"x":16,"u":0.13,"m":0.04,"l":-0.08,"o":-0.085},
{"p":14,"x":17,"u":0.15,"m":0.04,"l":-0.09,"o":-0.09},
{"p":14,"x":18,"u":0.16,"m":0.045,"l":-0.095,"o":-0.13},
{"p":14,"x":19,"u":0.17,"m":0.045,"l":-0.1,"o":-0.15},
{"p":14,"x":20,"u":0.18,"m":0.045,"l":-0.1,"o":-0.18},
{"p":14,"x":21,"u":0.185,"m":0.045,"l":-0.1,"o":-0.2},
{"p":14,"x":22,"u":0.19,"m":0.05,"l":-0.1,"o":-0.22},
{"p":14,"x":23,"u":0.195,"m":0.05,"l":-0.105,"o":-0.24},
{"p":14,"x":24,"u":0.2,"m":0.05,"l":-0.105,"o":-0.245},
{"p":14,"x":25,"u":0.2,"m":0.05,"l":-0.105,"o":-0.22},
{"p":14,"x":26,"u":0.2,"m":0.05,"l":-0.1,"o":-0.18},
{"p":14,"x":27,"u":0.2,"m":0.045,"l":-0.1,"o":-0.14},
{"p":14,"x":28,"u":0.19,"m":0.04,"l":-0.1,"o":-0.12},
{"p":14,"x":29,"u":0.17,"m":0.035,"l":-0.1,"o":-0.14},
{"p":14,"x":30,"u":0.17,"m":0.03,"l":-0.1,"o":-0.13},
{"p":14,"x":31,"u":0.165,"m":0.03,"l":-0.1,"o":-0.135},
{"p":14,"x":32,"u":0.16,"m":0.025,"l":-0.1,"o":-0.13},
{"p":14,"x":33,"u":0.15,"m":0.02,"l":-0.1,"o":-0.125},
{"p":14,"x":34,"u":0.14,"m":0.02,"l":-0.1,"o":-0.13},
{"p":14,"x":35,"u":0.155,"m":0.02,"l":-0.105,"o":-0.12},
{"p":14,"x":36,"u":0.135,"m":0.015,"l":-0.105,"o":-0.13},
{"p":14,"x":37,"u":0.13,"m":0.015,"l":-0.105,"o":-0.13},
{"p":14,"x":38,"u":0.13,"m":0.01,"l":-0.11,"o":-0.13},
{"p":14,"x":39,"u":0.135,"m":0.01,"l":-0.11,"o":-0.13},
{"p":14,"x":40,"u":0.13,"m":0.01,"l":-0.11,"o":-0.125},
{"p":14,"x":41,"u":0.13,"m":0.01,"l":-0.11,"o":-0.13},
{"p":14,"x":42,"u":0.13,"m":0.01,"l":-0.11,"o":-0.125},
{"p":14,"x":43,"u":0.13,"m":0.005,"l":-0.11,"o":-0.125},
{"p":14,"x":44,"u":0.125,"m":0.005,"l":-0.11,"o":-0.125},
{"p":14,"x":45,"u":0.125,"m":0.005,"l":-0.11,"o":-0.13},
{"p":15,"x":10,"u":0.04,"m":0,"l":-0.04,"o":0.01},
{"p":15,"x":11,"u":0.04,"m":0,"l":-0.035,"o":0.01},
{"p":15,"x":12,"u":0.04,"m":0.003,"l":-0.035,"o":0.008},
{"p":15,"x":13,"u":0.045,"m":0,"l":-0.03,"o":0},
{"p":15,"x":14,"u":0.05,"m":0,"l":-0.025,"o":0},
{"p":15,"x":15,"u":0.055,"m":0.003,"l":-0.025,"o":0.002},
{"p":15,"x":16,"u":0.07,"m":0.005,"l":-0.02,"o":0.005},
{"p":15,"x":17,"u":0.09,"m":0.005,"l":-0.015,"o":0},
{"p":15,"x":18,"u":0.09,"m":0.005,"l":-0.01,"o":-0.005},
{"p":15,"x":19,"u":0.095,"m":0.005,"l":-0.005,"o":-0.035},
{"p":15,"x":20,"u":0.1,"m":0.01,"l":-0.005,"o":-0.04},
{"p":15,"x":21,"u":0.1,"m":0.03,"l":-0.035,"o":-0.045},
{"p":15,"x":22,"u":0.115,"m":0.035,"l":-0.05,"o":-0.05},
{"p":15,"x":23,"u":0.14,"m":0.035,"l":-0.065,"o":-0.08},
{"p":15,"x":24,"u":0.145,"m":0.035,"l":-0.075,"o":-0.145},
{"p":15,"x":25,"u":0.145,"m":0.03,"l":-0.08,"o":-0.13},
{"p":15,"x":26,"u":0.11,"m":0.02,"l":-0.085,"o":-0.045},
{"p":15,"x":27,"u":0.11,"m":0.015,"l":-0.09,"o":0.005},
{"p":15,"x":28,"u":0.11,"m":0.01,"l":-0.09,"o":-0.015},
{"p":15,"x":29,"u":0.11,"m":0.005,"l":-0.09,"o":-0.08},
{"p":15,"x":30,"u":0.105,"m":0.005,"l":-0.085,"o":-0.075},
{"p":15,"x":31,"u":0.11,"m":0.003,"l":-0.075,"o":-0.065},
{"p":15,"x":32,"u":0.105,"m":0.003,"l":-0.07,"o":-0.06},
{"p":15,"x":33,"u":0.11,"m":0,"l":-0.065,"o":-0.055},
{"p":15,"x":34,"u":0.105,"m":0,"l":-0.065,"o":-0.065},
{"p":15,"x":35,"u":0.105,"m":0.003,"l":-0.07,"o":-0.065},
{"p":15,"x":36,"u":0.11,"m":0.003,"l":-0.1,"o":-0.105},
{"p":15,"x":37,"u":0.115,"m":0.003,"l":-0.1,"o":-0.105},
{"p":15,"x":38,"u":0.115,"m":0.003,"l":-0.1,"o":-0.11},
{"p":15,"x":39,"u":0.12,"m":0.003,"l":-0.1,"o":-0.11},
{"p":15,"x":40,"u":0.12,"m":0.003,"l":-0.1,"o":-0.105},
{"p":15,"x":41,"u":0.12,"m":0.005,"l":-0.105,"o":-0.105},
{"p":15,"x":42,"u":0.12,"m":0.005,"l":-0.105,"o":-0.11},
{"p":15,"x":43,"u":0.125,"m":0.008,"l":-0.105,"o":-0.11},
{"p":15,"x":44,"u":0.125,"m":0.008,"l":-0.105,"o":-0.11},
{"p":15,"x":45,"u":0.125,"m":0.01,"l":-0.105,"o":-0.11},
{"p":16,"x":10,"u":0.035,"m":0,"l":-0.04,"o":0.015},
{"p":16,"x":11,"u":0.045,"m":0,"l":-0.045,"o":0.035},
{"p":16,"x":12,"u":0.055,"m":0,"l":-0.05,"o":0.01},
{"p":16,"x":13,"u":0.06,"m":0,"l":-0.055,"o":0},
{"p":16,"x":14,"u":0.06,"m":0.002,"l":-0.06,"o":0},
{"p":16,"x":15,"u":0.065,"m":0,"l":-0.07,"o":0},
{"p":16,"x":16,"u":0.07,"m":0,"l":-0.075,"o":0},
{"p":16,"x":17,"u":0.075,"m":0,"l":-0.08,"o":0},
{"p":16,"x":18,"u":0.085,"m":0,"l":-0.085,"o":-0.01},
{"p":16,"x":19,"u":0.09,"m":-0.002,"l":-0.09,"o":0},
{"p":16,"x":20,"u":0.1,"m":0,"l":-0.095,"o":0.003},
{"p":16,"x":21,"u":0.11,"m":0,"l":-0.1,"o":0},
{"p":16,"x":22,"u":0.12,"m":0.002,"l":-0.105,"o":-0.015},
{"p":16,"x":23,"u":0.13,"m":0,"l":-0.11,"o":0.01},
{"p":16,"x":24,"u":0.135,"m":0,"l":-0.11,"o":0.04},
{"p":16,"x":25,"u":0.135,"m":0,"l":-0.11,"o":0.01},
{"p":16,"x":26,"u":0.13,"m":0,"l":-0.115,"o":0.005},
{"p":16,"x":27,"u":0.13,"m":-0.002,"l":-0.115,"o":-0.01},
{"p":16,"x":28,"u":0.12,"m":0,"l":-0.12,"o":-0.04},
{"p":16,"x":29,"u":0.115,"m":0,"l":-0.12,"o":-0.085},
{"p":16,"x":30,"u":0.115,"m":0,"l":-0.125,"o":-0.09},
{"p":16,"x":31,"u":0.12,"m":0,"l":-0.13,"o":-0.075},
{"p":16,"x":32,"u":0.125,"m":0.002,"l":-0.13,"o":-0.09},
{"p":16,"x":33,"u":0.13,"m":0,"l":-0.13,"o":-0.1},
{"p":16,"x":34,"u":0.135,"m":0,"l":-0.13,"o":-0.1},
{"p":16,"x":35,"u":0.125,"m":0,"l":-0.14,"o":-0.095},
{"p":16,"x":36,"u":0.12,"m":-0.002,"l":-0.155,"o":-0.1},
{"p":16,"x":37,"u":0.12,"m":0,"l":-0.14,"o":-0.1},
{"p":16,"x":38,"u":0.125,"m":0,"l":-0.13,"o":-0.11},
{"p":16,"x":39,"u":0.125,"m":0,"l":-0.125,"o":-0.115},
{"p":16,"x":40,"u":0.125,"m":0,"l":-0.12,"o":-0.11},
{"p":16,"x":41,"u":0.125,"m":0.002,"l":-0.12,"o":-0.11},
{"p":16,"x":42,"u":0.125,"m":0,"l":-0.115,"o":-0.11},
{"p":16,"x":43,"u":0.125,"m":0,"l":-0.115,"o":-0.11},
{"p":16,"x":44,"u":0.125,"m":0,"l":-0.11,"o":-0.105},
{"p":16,"x":45,"u":0.125,"m":0,"l":-0.11,"o":-0.11},
{"p":17,"x":10,"u":0.26,"m":-0.01,"l":-0.27,"o":0.3},
{"p":17,"x":11,"u":0.25,"m":-0.01,"l":-0.27,"o":0.4},
{"p":17,"x":12,"u":0.24,"m":-0.01,"l":-0.28,"o":0.38},
{"p":17,"x":13,"u":0.22,"m":-0.02,"l":-0.29,"o":0.36},
{"p":17,"x":14,"u":0.2,"m":-0.03,"l":-0.29,"o":0.34},
{"p":17,"x":15,"u":0.19,"m":-0.04,"l":-0.29,"o":0.34},
{"p":17,"x":16,"u":0.18,"m":-0.04,"l":-0.29,"o":0.43},
{"p":17,"x":17,"u":0.17,"m":-0.03,"l":-0.28,"o":0.44},
{"p":17,"x":18,"u":0.16,"m":-0.04,"l":-0.25,"o":0.25},
{"p":17,"x":19,"u":0.15,"m":-0.03,"l":-0.23,"o":0.16},
{"p":17,"x":20,"u":0.15,"m":-0.02,"l":-0.21,"o":0.08},
{"p":17,"x":21,"u":0.14,"m":-0.02,"l":-0.2,"o":0.13},
{"p":17,"x":22,"u":0.14,"m":-0.01,"l":-0.19,"o":0.14},
{"p":17,"x":23,"u":0.14,"m":0,"l":-0.18,"o":0.13},
{"p":17,"x":24,"u":0.14,"m":0,"l":-0.17,"o":0.12},
{"p":17,"x":25,"u":0.14,"m":0.01,"l":-0.16,"o":0.11},
{"p":17,"x":26,"u":0.15,"m":0.01,"l":-0.16,"o":0},
{"p":17,"x":27,"u":0.15,"m":0.02,"l":-0.15,"o":-0.02},
{"p":17,"x":28,"u":0.16,"m":0.02,"l":-0.14,"o":-0.03},
{"p":17,"x":29,"u":0.16,"m":0.02,"l":-0.13,"o":-0.05},
{"p":17,"x":30,"u":0.17,"m":0.02,"l":-0.12,"o":-0.06},
{"p":17,"x":31,"u":0.17,"m":0.02,"l":-0.12,"o":-0.07},
{"p":17,"x":32,"u":0.17,"m":0.02,"l":-0.13,"o":0.02},
{"p":17,"x":33,"u":0.18,"m":0.02,"l":-0.13,"o":-0.15},
{"p":17,"x":34,"u":0.18,"m":0.02,"l":-0.12,"o":-0.12},
{"p":17,"x":35,"u":0.18,"m":0.02,"l":-0.12,"o":-0.09},
{"p":17,"x":36,"u":0.18,"m":0.02,"l":-0.13,"o":-0.08},
{"p":17,"x":37,"u":0.18,"m":0.02,"l":-0.13,"o":0.02},
{"p":17,"x":38,"u":0.18,"m":0.02,"l":-0.13,"o":-0.06},
{"p":17,"x":39,"u":0.18,"m":0.02,"l":-0.12,"o":-0.11},
{"p":17,"x":40,"u":0.18,"m":0.02,"l":-0.13,"o":-0.09},
{"p":17,"x":41,"u":0.18,"m":0.02,"l":-0.12,"o":-0.1},
{"p":17,"x":42,"u":0.17,"m":0.02,"l":-0.13,"o":-0.12},
{"p":17,"x":43,"u":0.17,"m":0.02,"l":-0.14,"o":-0.11},
{"p":17,"x":44,"u":0.17,"m":0.02,"l":-0.13,"o":-0.11},
{"p":17,"x":45,"u":0.17,"m":0.02,"l":-0.14,"o":-0.07},
{"p":18,"x":10,"u":0.27,"m":0,"l":-0.25,"o":0.21},
{"p":18,"x":11,"u":0.28,"m":0,"l":-0.27,"o":0.22},
{"p":18,"x":12,"u":0.26,"m":-0.01,"l":-0.3,"o":0.25},
{"p":18,"x":13,"u":0.25,"m":-0.01,"l":-0.28,"o":0.28},
{"p":18,"x":14,"u":0.23,"m":-0.02,"l":-0.27,"o":0.43},
{"p":18,"x":15,"u":0.22,"m":-0.03,"l":-0.27,"o":0.42},
{"p":18,"x":16,"u":0.2,"m":-0.04,"l":-0.26,"o":0.41},
{"p":18,"x":17,"u":0.19,"m":-0.03,"l":-0.25,"o":0.42},
{"p":18,"x":18,"u":0.15,"m":-0.03,"l":-0.21,"o":0.23},
{"p":18,"x":19,"u":0.12,"m":-0.02,"l":-0.2,"o":0.08},
{"p":18,"x":20,"u":0.11,"m":-0.01,"l":-0.19,"o":0.14},
{"p":18,"x":21,"u":0.11,"m":0,"l":-0.18,"o":0.15},
{"p":18,"x":22,"u":0.12,"m":0,"l":-0.17,"o":0.16},
{"p":18,"x":23,"u":0.12,"m":0,"l":-0.16,"o":0.14},
{"p":18,"x":24,"u":0.13,"m":0,"l":-0.15,"o":0.14},
{"p":18,"x":25,"u":0.13,"m":0,"l":-0.14,"o":0.01},
{"p":18,"x":26,"u":0.13,"m":0.01,"l":-0.13,"o":-0.03},
{"p":18,"x":27,"u":0.13,"m":0.01,"l":-0.12,"o":0.07},
{"p":18,"x":28,"u":0.14,"m":0.01,"l":-0.12,"o":0.03},
{"p":18,"x":29,"u":0.14,"m":0.02,"l":-0.12,"o":0.06},
{"p":18,"x":30,"u":0.14,"m":0.02,"l":-0.12,"o":0.08},
{"p":18,"x":31,"u":0.15,"m":0.02,"l":-0.12,"o":0.04},
{"p":18,"x":32,"u":0.15,"m":0.02,"l":-0.12,"o":-0.13},
{"p":18,"x":33,"u":0.15,"m":0.02,"l":-0.12,"o":-0.1},
{"p":18,"x":34,"u":0.15,"m":0.02,"l":-0.13,"o":-0.1},
{"p":18,"x":35,"u":0.15,"m":0.02,"l":-0.12,"o":-0.1},
{"p":18,"x":36,"u":0.15,"m":0.02,"l":-0.12,"o":0},
{"p":18,"x":37,"u":0.15,"m":0.02,"l":-0.13,"o":0.02},
{"p":18,"x":38,"u":0.15,"m":0.02,"l":-0.14,"o":0},
{"p":18,"x":39,"u":0.16,"m":0.02,"l":-0.15,"o":-0.02},
{"p":18,"x":40,"u":0.15,"m":0.02,"l":-0.14,"o":-0.02},
{"p":18,"x":41,"u":0.16,"m":0.02,"l":-0.13,"o":-0.03},
{"p":18,"x":42,"u":0.15,"m":0.02,"l":-0.13,"o":-0.01},
{"p":18,"x":43,"u":0.15,"m":0.02,"l":-0.12,"o":-0.02},
{"p":18,"x":44,"u":0.15,"m":0.02,"l":-0.12,"o":-0.03},
{"p":18,"x":45,"u":0.15,"m":0.02,"l":-0.12,"o":-0.04},
{"p":19,"x":10,"u":0.21,"m":0.01,"l":-0.19,"o":-0.05},
{"p":19,"x":11,"u":0.2,"m":0.01,"l":-0.2,"o":-0.07},
{"p":19,"x":12,"u":0.19,"m":0,"l":-0.19,"o":-0.12},
{"p":19,"x":13,"u":0.15,"m":-0.01,"l":-0.18,"o":-0.06},
{"p":19,"x":14,"u":0.14,"m":-0.02,"l":-0.18,"o":0.01},
{"p":19,"x":15,"u":0.13,"m":-0.025,"l":-0.17,"o":-0.01},
{"p":19,"x":16,"u":0.12,"m":-0.025,"l":-0.15,"o":-0.02},
{"p":19,"x":17,"u":0.1,"m":-0.02,"l":-0.14,"o":-0.01},
{"p":19,"x":18,"u":0.04,"m":-0.01,"l":-0.12,"o":-0.02},
{"p":19,"x":19,"u":0.04,"m":-0.005,"l":-0.1,"o":0.01},
{"p":19,"x":20,"u":0.04,"m":0,"l":-0.08,"o":0.025},
{"p":19,"x":21,"u":0.055,"m":0.005,"l":-0.07,"o":0.04},
{"p":19,"x":22,"u":0.06,"m":0.01,"l":-0.07,"o":0.06},
{"p":19,"x":23,"u":0.065,"m":0.01,"l":-0.075,"o":0.005},
{"p":19,"x":24,"u":0.07,"m":0.01,"l":-0.08,"o":0.005},
{"p":19,"x":25,"u":0.085,"m":0.01,"l":-0.09,"o":-0.04},
{"p":19,"x":26,"u":0.09,"m":0.01,"l":-0.095,"o":-0.04},
{"p":19,"x":27,"u":0.1,"m":0.005,"l":-0.1,"o":-0.05},
{"p":19,"x":28,"u":0.11,"m":0,"l":-0.1,"o":-0.05},
{"p":19,"x":29,"u":0.115,"m":-0.005,"l":-0.1,"o":-0.055},
{"p":19,"x":30,"u":0.12,"m":-0.01,"l":-0.105,"o":-0.04},
{"p":19,"x":31,"u":0.125,"m":-0.015,"l":-0.11,"o":-0.01},
{"p":19,"x":32,"u":0.125,"m":-0.02,"l":-0.115,"o":-0.03},
{"p":19,"x":33,"u":0.12,"m":-0.025,"l":-0.12,"o":-0.05},
{"p":19,"x":34,"u":0.12,"m":-0.025,"l":-0.125,"o":-0.11},
{"p":19,"x":35,"u":0.12,"m":-0.025,"l":-0.12,"o":-0.1},
{"p":19,"x":36,"u":0.115,"m":-0.025,"l":-0.12,"o":0},
{"p":19,"x":37,"u":0.11,"m":-0.02,"l":-0.115,"o":0.005},
{"p":19,"x":38,"u":0.105,"m":-0.02,"l":-0.115,"o":0.01},
{"p":19,"x":39,"u":0.1,"m":-0.015,"l":-0.11,"o":0.015},
{"p":19,"x":40,"u":0.1,"m":-0.01,"l":-0.11,"o":0.02},
{"p":19,"x":41,"u":0.1,"m":-0.01,"l":-0.11,"o":0.02},
{"p":19,"x":42,"u":0.1,"m":-0.005,"l":-0.11,"o":0.02},
{"p":19,"x":43,"u":0.105,"m":0,"l":-0.105,"o":0.02},
{"p":19,"x":44,"u":0.105,"m":0,"l":-0.1,"o":0.02},
{"p":19,"x":45,"u":0.105,"m":0.005,"l":-0.1,"o":0.02},
{"p":20,"x":10,"u":0.21,"m":0.005,"l":-0.16,"o":-0.1},
{"p":20,"x":11,"u":0.21,"m":0.005,"l":-0.18,"o":-0.19},
{"p":20,"x":12,"u":0.19,"m":0.003,"l":-0.17,"o":-0.14},
{"p":20,"x":13,"u":0.17,"m":0.002,"l":-0.15,"o":-0.07},
{"p":20,"x":14,"u":0.15,"m":0,"l":-0.14,"o":0.02},
{"p":20,"x":15,"u":0.14,"m":0,"l":-0.13,"o":0.09},
{"p":20,"x":16,"u":0.14,"m":0.002,"l":-0.125,"o":-0.02},
{"p":20,"x":17,"u":0.13,"m":0,"l":-0.12,"o":-0.02},
{"p":20,"x":18,"u":0.12,"m":0,"l":-0.13,"o":-0.01},
{"p":20,"x":19,"u":0.11,"m":0.002,"l":-0.12,"o":0},
{"p":20,"x":20,"u":0.1,"m":0,"l":-0.11,"o":0.01},
{"p":20,"x":21,"u":0.09,"m":0,"l":-0.1,"o":0.015},
{"p":20,"x":22,"u":0.08,"m":0,"l":-0.09,"o":0.02},
{"p":20,"x":23,"u":0.08,"m":0.002,"l":-0.085,"o":0.025},
{"p":20,"x":24,"u":0.085,"m":0,"l":-0.09,"o":0.03},
{"p":20,"x":25,"u":0.09,"m":0,"l":-0.095,"o":0.02},
{"p":20,"x":26,"u":0.095,"m":0,"l":-0.1,"o":0.005},
{"p":20,"x":27,"u":0.1,"m":0,"l":-0.1,"o":0.003},
{"p":20,"x":28,"u":0.105,"m":0.002,"l":-0.1,"o":0},
{"p":20,"x":29,"u":0.11,"m":0,"l":-0.105,"o":0.09},
{"p":20,"x":30,"u":0.11,"m":0,"l":-0.11,"o":0.085},
{"p":20,"x":31,"u":0.11,"m":0,"l":-0.11,"o":0.15},
{"p":20,"x":32,"u":0.115,"m":0,"l":-0.11,"o":0.1},
{"p":20,"x":33,"u":0.115,"m":0,"l":-0.11,"o":0.04},
{"p":20,"x":34,"u":0.12,"m":0.002,"l":-0.115,"o":0.02},
{"p":20,"x":35,"u":0.12,"m":0,"l":-0.12,"o":0.01},
{"p":20,"x":36,"u":0.12,"m":0,"l":-0.12,"o":-0.005},
{"p":20,"x":37,"u":0.125,"m":0,"l":-0.12,"o":-0.01},
{"p":20,"x":38,"u":0.125,"m":0,"l":-0.125,"o":0.09},
{"p":20,"x":39,"u":0.13,"m":0,"l":-0.125,"o":0.005},
{"p":20,"x":40,"u":0.13,"m":0,"l":-0.13,"o":0.105},
{"p":20,"x":41,"u":0.125,"m":0.002,"l":-0.13,"o":0.1},
{"p":20,"x":42,"u":0.125,"m":0,"l":-0.125,"o":0.09},
{"p":20,"x":43,"u":0.13,"m":0,"l":-0.125,"o":0.085},
{"p":20,"x":44,"u":0.135,"m":0,"l":-0.13,"o":0.08},
{"p":20,"x":45,"u":0.135,"m":0,"l":-0.13,"o":0.05},
{"p":21,"x":10,"u":0.35,"m":-0.02,"l":-0.5,"o":0.48},
{"p":21,"x":11,"u":0.33,"m":-0.03,"l":-0.45,"o":0.52},
{"p":21,"x":12,"u":0.3,"m":-0.05,"l":-0.42,"o":0.5},
{"p":21,"x":13,"u":0.28,"m":-0.06,"l":-0.4,"o":0.45},
{"p":21,"x":14,"u":0.27,"m":-0.07,"l":-0.4,"o":0.47},
{"p":21,"x":15,"u":0.26,"m":-0.07,"l":-0.38,"o":0.5},
{"p":21,"x":16,"u":0.25,"m":-0.07,"l":-0.37,"o":0.4},
{"p":21,"x":17,"u":0.24,"m":-0.07,"l":-0.36,"o":0.35},
{"p":21,"x":18,"u":0.24,"m":-0.07,"l":-0.35,"o":0.4},
{"p":21,"x":19,"u":0.23,"m":-0.07,"l":-0.35,"o":0.42},
{"p":21,"x":20,"u":0.23,"m":-0.06,"l":-0.34,"o":0.45},
{"p":21,"x":21,"u":0.22,"m":-0.06,"l":-0.34,"o":0.42},
{"p":21,"x":22,"u":0.22,"m":-0.06,"l":-0.34,"o":0.35},
{"p":21,"x":23,"u":0.21,"m":-0.06,"l":-0.34,"o":0.3},
{"p":21,"x":24,"u":0.21,"m":-0.06,"l":-0.33,"o":0.32},
{"p":21,"x":25,"u":0.2,"m":-0.06,"l":-0.33,"o":0.35},
{"p":21,"x":26,"u":0.2,"m":-0.05,"l":-0.33,"o":0.28},
{"p":21,"x":27,"u":0.2,"m":-0.05,"l":-0.33,"o":0.25},
{"p":21,"x":28,"u":0.19,"m":-0.05,"l":-0.32,"o":0.28},
{"p":21,"x":29,"u":0.19,"m":-0.05,"l":-0.32,"o":0.22},
{"p":21,"x":30,"u":0.19,"m":-0.05,"l":-0.31,"o":0.2},
{"p":21,"x":31,"u":0.18,"m":-0.05,"l":-0.3,"o":0.22},
{"p":21,"x":32,"u":0.18,"m":-0.04,"l":-0.29,"o":0.25},
{"p":21,"x":33,"u":0.18,"m":-0.04,"l":-0.28,"o":0.2},
{"p":21,"x":34,"u":0.17,"m":-0.04,"l":-0.27,"o":0.2},
{"p":21,"x":35,"u":0.17,"m":-0.04,"l":-0.26,"o":0.18},
{"p":21,"x":36,"u":0.17,"m":-0.04,"l":-0.25,"o":0.2},
{"p":21,"x":37,"u":0.16,"m":-0.04,"l":-0.24,"o":0.18},
{"p":21,"x":38,"u":0.16,"m":-0.04,"l":-0.23,"o":0.18},
{"p":21,"x":39,"u":0.16,"m":-0.04,"l":-0.22,"o":0.17},
{"p":21,"x":40,"u":0.16,"m":-0.04,"l":-0.21,"o":0.17},
{"p":21,"x":41,"u":0.15,"m":-0.04,"l":-0.2,"o":0.17},
{"p":21,"x":42,"u":0.15,"m":-0.04,"l":-0.19,"o":0.16},
{"p":21,"x":43,"u":0.15,"m":-0.04,"l":-0.18,"o":0.16},
{"p":21,"x":44,"u":0.15,"m":-0.04,"l":-0.17,"o":0.16},
{"p":21,"x":45,"u":0.15,"m":-0.04,"l":-0.16,"o":0.16},
{"p":22,"x":10,"u":0.4,"m":-0.02,"l":-0.45,"o":0.5},
{"p":22,"x":11,"u":0.37,"m":-0.04,"l":-0.42,"o":0.48},
{"p":22,"x":12,"u":0.34,"m":-0.06,"l":-0.4,"o":0.42},
{"p":22,"x":13,"u":0.32,"m":-0.07,"l":-0.39,"o":0.45},
{"p":22,"x":14,"u":0.3,"m":-0.08,"l":-0.38,"o":0.4},
{"p":22,"x":15,"u":0.28,"m":-0.08,"l":-0.37,"o":0.35},
{"p":22,"x":16,"u":0.27,"m":-0.08,"l":-0.36,"o":0.3},
{"p":22,"x":17,"u":0.26,"m":-0.08,"l":-0.35,"o":0.32},
{"p":22,"x":18,"u":0.25,"m":-0.07,"l":-0.34,"o":0.35},
{"p":22,"x":19,"u":0.24,"m":-0.07,"l":-0.33,"o":0.4},
{"p":22,"x":20,"u":0.23,"m":-0.07,"l":-0.33,"o":0.38},
{"p":22,"x":21,"u":0.23,"m":-0.06,"l":-0.32,"o":0.38},
{"p":22,"x":22,"u":0.22,"m":-0.06,"l":-0.32,"o":0.4},
{"p":22,"x":23,"u":0.22,"m":-0.06,"l":-0.31,"o":0.42},
{"p":22,"x":24,"u":0.21,"m":-0.05,"l":-0.31,"o":0.45},
{"p":22,"x":25,"u":0.21,"m":-0.05,"l":-0.3,"o":0.48},
{"p":22,"x":26,"u":0.2,"m":-0.05,"l":-0.3,"o":0.4},
{"p":22,"x":27,"u":0.2,"m":-0.05,"l":-0.29,"o":0.3},
{"p":22,"x":28,"u":0.2,"m":-0.04,"l":-0.29,"o":0.25},
{"p":22,"x":29,"u":0.19,"m":-0.04,"l":-0.28,"o":0.2},
{"p":22,"x":30,"u":0.19,"m":-0.04,"l":-0.28,"o":0.22},
{"p":22,"x":31,"u":0.18,"m":-0.04,"l":-0.27,"o":0.25},
{"p":22,"x":32,"u":0.18,"m":-0.04,"l":-0.26,"o":0.22},
{"p":22,"x":33,"u":0.18,"m":-0.04,"l":-0.26,"o":0.22},
{"p":22,"x":34,"u":0.17,"m":-0.04,"l":-0.25,"o":0.2},
{"p":22,"x":35,"u":0.17,"m":-0.04,"l":-0.24,"o":0.22},
{"p":22,"x":36,"u":0.17,"m":-0.04,"l":-0.23,"o":0.2},
{"p":22,"x":37,"u":0.16,"m":-0.04,"l":-0.22,"o":0.2},
{"p":22,"x":38,"u":0.16,"m":-0.04,"l":-0.22,"o":0.18},
{"p":22,"x":39,"u":0.16,"m":-0.04,"l":-0.21,"o":0.2},
{"p":22,"x":40,"u":0.15,"m":-0.04,"l":-0.2,"o":0.18},
{"p":22,"x":41,"u":0.15,"m":-0.04,"l":-0.19,"o":0.18},
{"p":22,"x":42,"u":0.15,"m":-0.04,"l":-0.18,"o":0.18},
{"p":22,"x":43,"u":0.15,"m":-0.03,"l":-0.18,"o":0.18},
{"p":22,"x":44,"u":0.15,"m":-0.03,"l":-0.17,"o":0.18},
{"p":22,"x":45,"u":0.14,"m":-0.03,"l":-0.16,"o":0.18},
{"p":23,"x":10,"u":0.3,"m":0,"l":-0.28,"o":0.01},
{"p":23,"x":11,"u":0.28,"m":0,"l":-0.27,"o":-0.02},
{"p":23,"x":12,"u":0.25,"m":0,"l":-0.25,"o":0.02},
{"p":23,"x":13,"u":0.22,"m":-0.01,"l":-0.22,"o":0.05},
{"p":23,"x":14,"u":0.2,"m":-0.02,"l":-0.2,"o":0.02},
{"p":23,"x":15,"u":0.17,"m":-0.03,"l":-0.18,"o":-0.05},
{"p":23,"x":16,"u":0.15,"m":-0.03,"l":-0.15,"o":-0.08},
{"p":23,"x":17,"u":0.12,"m":-0.03,"l":-0.12,"o":-0.05},
{"p":23,"x":18,"u":0.1,"m":-0.02,"l":-0.1,"o":0},
{"p":23,"x":19,"u":0.08,"m":-0.01,"l":-0.08,"o":-0.05},
{"p":23,"x":20,"u":0.06,"m":0,"l":-0.07,"o":-0.1},
{"p":23,"x":21,"u":0.07,"m":0.02,"l":-0.08,"o":-0.05},
{"p":23,"x":22,"u":0.1,"m":0.04,"l":-0.12,"o":0},
{"p":23,"x":23,"u":0.15,"m":0.06,"l":-0.18,"o":0.15},
{"p":23,"x":24,"u":0.2,"m":0.07,"l":-0.25,"o":0.25},
{"p":23,"x":25,"u":0.25,"m":0.07,"l":-0.3,"o":0.3},
{"p":23,"x":26,"u":0.27,"m":0.06,"l":-0.32,"o":0.28},
{"p":23,"x":27,"u":0.25,"m":0.05,"l":-0.3,"o":0.22},
{"p":23,"x":28,"u":0.22,"m":0.03,"l":-0.27,"o":0.22},
{"p":23,"x":29,"u":0.2,"m":0.02,"l":-0.24,"o":0.2},
{"p":23,"x":30,"u":0.18,"m":0.01,"l":-0.22,"o":0.18},
{"p":23,"x":31,"u":0.16,"m":0.01,"l":-0.2,"o":0.15},
{"p":23,"x":32,"u":0.15,"m":0,"l":-0.19,"o":0.17},
{"p":23,"x":33,"u":0.14,"m":0,"l":-0.18,"o":0.12},
{"p":23,"x":34,"u":0.13,"m":0,"l":-0.17,"o":0.1},
{"p":23,"x":35,"u":0.12,"m":0,"l":-0.16,"o":0.1},
{"p":23,"x":36,"u":0.12,"m":0,"l":-0.15,"o":0.08},
{"p":23,"x":37,"u":0.12,"m":0,"l":-0.15,"o":0.1},
{"p":23,"x":38,"u":0.11,"m":0,"l":-0.14,"o":0.08},
{"p":23,"x":39,"u":0.11,"m":0,"l":-0.14,"o":0.08},
{"p":23,"x":40,"u":0.11,"m":0,"l":-0.13,"o":0.09},
{"p":23,"x":41,"u":0.1,"m":0,"l":-0.13,"o":0.1},
{"p":23,"x":42,"u":0.1,"m":0,"l":-0.12,"o":0.09},
{"p":23,"x":43,"u":0.1,"m":0,"l":-0.12,"o":0.08},
{"p":23,"x":44,"u":0.1,"m":0,"l":-0.12,"o":0.09},
{"p":23,"x":45,"u":0.1,"m":0,"l":-0.12,"o":0.1},
{"p":24,"x":10,"u":0.32,"m":0.02,"l":-0.3,"o":0.03},
{"p":24,"x":11,"u":0.32,"m":0.03,"l":-0.31,"o":0.02},
{"p":24,"x":12,"u":0.31,"m":0.05,"l":-0.31,"o":0},
{"p":24,"x":13,"u":0.3,"m":0.06,"l":-0.3,"o":-0.03},
{"p":24,"x":14,"u":0.3,"m":0.06,"l":-0.3,"o":-0.05},
{"p":24,"x":15,"u":0.29,"m":0.05,"l":-0.3,"o":-0.07},
{"p":24,"x":16,"u":0.28,"m":0.04,"l":-0.29,"o":-0.08},
{"p":24,"x":17,"u":0.28,"m":0.03,"l":-0.28,"o":-0.06},
{"p":24,"x":18,"u":0.27,"m":0.02,"l":-0.28,"o":-0.05},
{"p":24,"x":19,"u":0.26,"m":0.02,"l":-0.27,"o":-0.03},
{"p":24,"x":20,"u":0.25,"m":0.01,"l":-0.26,"o":-0.02},
{"p":24,"x":21,"u":0.25,"m":0.01,"l":-0.26,"o":0},
{"p":24,"x":22,"u":0.24,"m":0.01,"l":-0.25,"o":-0.02},
{"p":24,"x":23,"u":0.23,"m":0,"l":-0.25,"o":-0.04},
{"p":24,"x":24,"u":0.22,"m":0,"l":-0.24,"o":-0.05},
{"p":24,"x":25,"u":0.22,"m":0,"l":-0.24,"o":-0.03},
{"p":24,"x":26,"u":0.21,"m":0,"l":-0.23,"o":0.08},
{"p":24,"x":27,"u":0.21,"m":0,"l":-0.23,"o":0.05},
{"p":24,"x":28,"u":0.2,"m":0,"l":-0.22,"o":0.02},
{"p":24,"x":29,"u":0.2,"m":0,"l":-0.22,"o":0.02},
{"p":24,"x":30,"u":0.19,"m":0,"l":-0.21,"o":0.1},
{"p":24,"x":31,"u":0.19,"m":0,"l":-0.2,"o":0.08},
{"p":24,"x":32,"u":0.18,"m":0,"l":-0.2,"o":0.12},
{"p":24,"x":33,"u":0.18,"m":0,"l":-0.19,"o":0.1},
{"p":24,"x":34,"u":0.17,"m":0,"l":-0.19,"o":0.12},
{"p":24,"x":35,"u":0.17,"m":0,"l":-0.18,"o":0.1},
{"p":24,"x":36,"u":0.16,"m":0,"l":-0.18,"o":0.12},
{"p":24,"x":37,"u":0.16,"m":0,"l":-0.17,"o":0.14},
{"p":24,"x":38,"u":0.15,"m":0,"l":-0.17,"o":0.12},
{"p":24,"x":39,"u":0.15,"m":0,"l":-0.16,"o":0.12},
{"p":24,"x":40,"u":0.15,"m":0,"l":-0.16,"o":0.13},
{"p":24,"x":41,"u":0.14,"m":0,"l":-0.15,"o":0.14},
{"p":24,"x":42,"u":0.14,"m":0,"l":-0.15,"o":0.15},
{"p":24,"x":43,"u":0.13,"m":0,"l":-0.14,"o":0.14},
{"p":24,"x":44,"u":0.13,"m":0,"l":-0.14,"o":0.13},
{"p":24,"x":45,"u":0.12,"m":0,"l":-0.14,"o":0.12}
]},
"vconcat":[
{"width":590,"height":14,"data":{"name":"hdr"},
 "encoding":{"x":{"field":"c","type":"quantitative","scale":{"domain":[0.815,4.341],"nice":false,"zero":false},"axis":null}},
 "layer":[
  {"mark":{"type":"text","align":"right","dx":-11,"font":"Liberation Serif","fontSize":13,"fontWeight":"bold","color":"#000"},"encoding":{"text":{"field":"a"}}},
  {"mark":{"type":"text","align":"center","font":"Liberation Serif","fontSize":13,"fontWeight":"bold","fontStyle":"italic","color":"#000"},"encoding":{"text":{"value":"vs."}}},
  {"mark":{"type":"text","align":"left","dx":11,"font":"Liberation Serif","fontSize":13,"fontWeight":"bold","color":"#000"},"encoding":{"text":{"field":"b"}}}
 ]},
{"data":{"name":"d"},
 "transform":[{"filter":"datum.p<=12"},{"lookup":"p","from":{"data":{"name":"panels"},"key":"p","fields":["r","c"]}}],
 "title":{"text":"(A) Phonemic fluency cortical network","font":"Liberation Sans Narrow","fontSize":14,"fontWeight":"normal","anchor":"middle","offset":0,"color":"#111"},
 "facet":{"row":{"field":"r","type":"nominal","header":{"title":null,"labelFont":"Liberation Serif","labelFontStyle":"italic","labelFontSize":17,"labelPadding":8,"labelColor":"#111"}},
          "column":{"field":"c","type":"ordinal","header":null}},
 "spacing":{"row":18,"column":21},
 "resolve":{"scale":{"y":"independent"},"axis":{"x":"independent","y":"independent"}},
 "spec":{"width":111,"height":83,
  "encoding":{"x":{"field":"x","type":"quantitative","title":"density [%]","scale":{"domain":[5,40],"nice":false,"zero":false},"axis":{"values":[5,10,15,20,25,30,35,40]}}},
  "layer":[
   {"mark":{"type":"area","color":"#d9d9d9"},"encoding":{"y":{"field":"l","type":"quantitative","title":"difference","scale":{"zero":false,"nice":false},"axis":{"tickCount":6,"format":"~g"}},"y2":{"field":"u"}}},
   {"transform":[{"fold":["u","m","l"],"as":["k","v"]}],"mark":{"type":"line","color":"#e5852b","strokeWidth":1},"encoding":{"y":{"field":"v","type":"quantitative","title":"difference","scale":{"zero":false,"nice":false}},"detail":{"field":"k"}}},
   {"transform":[{"fold":["u","m","l"],"as":["k","v"]},{"filter":"datum.x>5 && datum.x<40"}],"mark":{"type":"circle","color":"#e5852b","size":10,"opacity":1},"encoding":{"y":{"field":"v","type":"quantitative","title":"difference","scale":{"zero":false,"nice":false}}}},
   {"mark":{"type":"line","color":"#5f2a86","strokeWidth":1},"encoding":{"y":{"field":"o","type":"quantitative","title":"difference","scale":{"zero":false,"nice":false}}}},
   {"transform":[{"filter":"datum.x>5 && datum.x<40"}],"mark":{"type":"circle","color":"#5f2a86","size":10,"opacity":1},"encoding":{"y":{"field":"o","type":"quantitative","title":"difference","scale":{"zero":false,"nice":false}}}}
  ]}},
{"data":{"name":"d"},
 "transform":[{"filter":"datum.p>12"},{"lookup":"p","from":{"data":{"name":"panels"},"key":"p","fields":["r","c"]}}],
 "title":{"text":"(B) Semantic cortical network","font":"Liberation Serif","fontSize":15,"fontWeight":"normal","anchor":"middle","offset":5,"color":"#111"},
 "facet":{"row":{"field":"r","type":"nominal","header":{"title":null,"labelFont":"Liberation Serif","labelFontStyle":"italic","labelFontSize":17,"labelPadding":8,"labelColor":"#111"}},
          "column":{"field":"c","type":"ordinal","header":null}},
 "spacing":{"row":18,"column":21},
 "resolve":{"scale":{"y":"independent"},"axis":{"x":"independent","y":"independent"}},
 "spec":{"width":111,"height":83,
  "encoding":{"x":{"field":"x","type":"quantitative","title":"density [%]","scale":{"domain":[10,45],"nice":false,"zero":false},"axis":{"values":[10,15,20,25,30,35,40,45]}}},
  "layer":[
   {"mark":{"type":"area","color":"#d9d9d9"},"encoding":{"y":{"field":"l","type":"quantitative","title":"difference","scale":{"zero":false,"nice":false},"axis":{"tickCount":6,"format":"~g"}},"y2":{"field":"u"}}},
   {"transform":[{"fold":["u","m","l"],"as":["k","v"]}],"mark":{"type":"line","color":"#e5852b","strokeWidth":1},"encoding":{"y":{"field":"v","type":"quantitative","title":"difference","scale":{"zero":false,"nice":false}},"detail":{"field":"k"}}},
   {"transform":[{"fold":["u","m","l"],"as":["k","v"]},{"filter":"datum.x>10 && datum.x<45"}],"mark":{"type":"circle","color":"#e5852b","size":10,"opacity":1},"encoding":{"y":{"field":"v","type":"quantitative","title":"difference","scale":{"zero":false,"nice":false}}}},
   {"mark":{"type":"line","color":"#5f2a86","strokeWidth":1},"encoding":{"y":{"field":"o","type":"quantitative","title":"difference","scale":{"zero":false,"nice":false}}}},
   {"transform":[{"filter":"datum.x>10 && datum.x<45"}],"mark":{"type":"circle","color":"#5f2a86","size":10,"opacity":1},"encoding":{"y":{"field":"o","type":"quantitative","title":"difference","scale":{"zero":false,"nice":false}}}}
  ]}}
],
"config":{
 "view":{"stroke":null},
 "font":"Liberation Sans",
 "axis":{"labelFont":"Liberation Sans","titleFont":"Liberation Sans","labelFontSize":6,"titleFontSize":6,"titleFontWeight":"normal","tickSize":2.5,"labelPadding":1,"titlePadding":2,"domainColor":"#333","tickColor":"#333","labelColor":"#222","titleColor":"#222","grid":false,"labelFlush":false},
 "axisY":{"titleFontSize":5,"titlePadding":2}
}
}
